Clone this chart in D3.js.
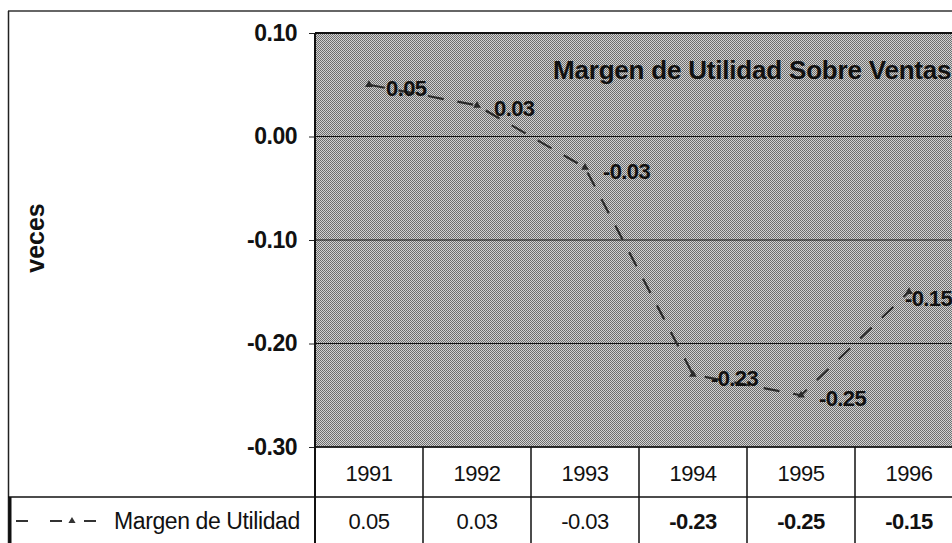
<!DOCTYPE html>
<html>
<meta charset="utf-8">
<script src="https://d3js.org/d3.v7.min.js"></script>
<style>
  body { margin: 0; background: #fff; }
  text { font-family: "Liberation Sans", Arial, sans-serif; fill: #111; }
</style>
<body>
<div id="vis"></div>
<script>
    // data
    var years = ["1991", "1992", "1993", "1994", "1995", "1996"];
    var margen = [0.05, 0.03, -0.03, -0.23, -0.25, -0.15];
    var yTicks = [0.10, 0.00, -0.10, -0.20, -0.30];
    var seriesName = "Margen de Utilidad";
    var chartTitle = "Margen de Utilidad Sobre Ventas";
    var axisTitle = "veces";

    var total_width = 952,
        total_height = 543,
        plot = {left: 315, right: 963, top: 33, bottom: 447},
        rowH = 50;

    // plain hyphen for negatives, like the original
    var fmt = d3.formatLocale({decimal: ".", thousands: ",", grouping: [3], currency: ["", ""], minus: "-"}).format(".2f");

    var svg = d3.select("#vis")
      .append("svg")
        .attr("width", total_width)
        .attr("height", total_height);

    // dithered grey fill like the scan
    var defs = svg.append("defs");
    var pat = defs.append("pattern")
        .attr("id", "dither")
        .attr("width", 2).attr("height", 2)
        .attr("patternUnits", "userSpaceOnUse");
    pat.append("rect").attr("width", 2).attr("height", 2).attr("fill", "#d2d2d2");
    pat.append("rect").attr("width", 1).attr("height", 1).attr("fill", "#6a6a6a");
    pat.append("rect").attr("x", 1).attr("y", 1).attr("width", 1).attr("height", 1).attr("fill", "#727272");

    var x_scale = d3.scaleBand()
      .domain(years)
      .range([plot.left, plot.right]);

    var y_scale = d3.scaleLinear()
      .domain([-0.30, 0.10])
      .range([plot.bottom, plot.top]);

    // outer frame
    svg.append("line")
      .attr("x1", 8).attr("x2", total_width).attr("y1", 11).attr("y2", 11)
      .attr("stroke", "#333").attr("stroke-width", 1.5);
    svg.append("line")
      .attr("x1", 8.5).attr("x2", 8.5).attr("y1", 11).attr("y2", total_height)
      .attr("stroke", "#222").attr("stroke-width", 1.5);

    // plot background
    svg.append("rect")
      .attr("x", plot.left).attr("y", plot.top)
      .attr("width", plot.right - plot.left)
      .attr("height", plot.bottom - plot.top)
      .attr("fill", "url(#dither)");

    // y axis
    var yAxis = svg.append("g")
      .attr("transform", "translate(" + plot.left + ",0)")
      .call(d3.axisLeft(y_scale).tickValues(yTicks).tickFormat(fmt).tickSize(6).tickPadding(12));
    yAxis.select(".domain").remove();
    yAxis.selectAll(".tick line").attr("stroke", "#222");
    yAxis.selectAll("text")
      .style("font-size", "23px")
      .style("font-weight", "bold")
      .style("letter-spacing", "-0.5px")
      .attr("fill", "#111");

    // gridlines
    svg.append("g")
      .selectAll("line")
      .data(yTicks)
      .enter()
      .append("line")
        .attr("x1", plot.left).attr("x2", plot.right)
        .attr("y1", function(d) { return y_scale(d); })
        .attr("y2", function(d) { return y_scale(d); })
        .attr("stroke", "#111")
        .attr("stroke-width", function(d) { return d == 0.10 ? 2 : 1.2; });

    // plot left border
    svg.append("line")
      .attr("x1", plot.left).attr("x2", plot.left)
      .attr("y1", plot.top).attr("y2", total_height)
      .attr("stroke", "#111").attr("stroke-width", 2);

    // axis title
    svg.append("text")
      .attr("transform", "translate(44,238) rotate(-90)")
      .attr("text-anchor", "middle")
      .style("font-size", "25px")
      .style("font-weight", "bold")
      .text(axisTitle);

    // chart title
    svg.append("text")
      .attr("x", 553).attr("y", 79)
      .style("font-size", "26px")
      .style("font-weight", "bold")
      .style("letter-spacing", "-0.2px")
      .text(chartTitle);

    // series line
    var pts = years.map(function(y, i) { return {year: y, value: margen[i]}; });
    var line = d3.line()
      .x(function(d) { return x_scale(d.year) + x_scale.bandwidth() / 2; })
      .y(function(d) { return y_scale(d.value); });

    svg.append("path")
      .datum(pts)
      .attr("d", line)
      .attr("fill", "none")
      .attr("stroke", "#2a2a2a")
      .attr("stroke-width", 2.2)
      .attr("stroke-dasharray", "16,14");

    svg.append("g")
      .selectAll("path")
      .data(pts)
      .enter()
      .append("path")
        .attr("d", d3.symbol().type(d3.symbolTriangle).size(26))
        .attr("transform", function(d) {
          return "translate(" + (x_scale(d.year) + x_scale.bandwidth() / 2) + "," + y_scale(d.value) + ")";
        })
        .attr("fill", "#2a2a2a");

    // data labels (last one sits a bit closer, as in the original)
    svg.append("g")
      .selectAll("text")
      .data(pts)
      .enter()
      .append("text")
        .attr("x", function(d, i) {
          var off = i == pts.length - 1 ? -4 : (d.value < 0 ? 18 : 17);
          return x_scale(d.year) + x_scale.bandwidth() / 2 + off;
        })
        .attr("y", function(d, i) { return y_scale(d.value) + (i == pts.length - 1 ? 14 : 11); })
        .style("font-size", "22px")
        .style("font-weight", "bold")
        .style("letter-spacing", "-0.6px")
        .text(function(d) { return fmt(d.value); });

    // data table
    var table = svg.append("g");
    table.append("line")
      .attr("x1", plot.left).attr("x2", total_width)
      .attr("y1", plot.bottom + rowH).attr("y2", plot.bottom + rowH)
      .attr("stroke", "#111").attr("stroke-width", 1.5);
    table.append("line")
      .attr("x1", 8).attr("x2", plot.left)
      .attr("y1", plot.bottom + rowH).attr("y2", plot.bottom + rowH)
      .attr("stroke", "#111").attr("stroke-width", 1.5);
    table.append("line")
      .attr("x1", plot.left).attr("x2", total_width)
      .attr("y1", plot.bottom).attr("y2", plot.bottom)
      .attr("stroke", "#111").attr("stroke-width", 1.5);
    // legend cell thick left border
    table.append("line")
      .attr("x1", 10).attr("x2", 10)
      .attr("y1", plot.bottom + rowH).attr("y2", total_height)
      .attr("stroke", "#111").attr("stroke-width", 3);

    // column separators
    table.selectAll(".sep")
      .data(years)
      .enter()
      .append("line")
        .attr("class", "sep")
        .attr("x1", function(d) { return x_scale(d) + x_scale.bandwidth(); })
        .attr("x2", function(d) { return x_scale(d) + x_scale.bandwidth(); })
        .attr("y1", plot.bottom).attr("y2", total_height)
        .attr("stroke", "#111").attr("stroke-width", 1.5);

    table.selectAll(".yr")
      .data(years)
      .enter()
      .append("text")
        .attr("class", "yr")
        .attr("x", function(d) { return x_scale(d) + x_scale.bandwidth() / 2; })
        .attr("y", plot.bottom + 34)
        .attr("text-anchor", "middle")
        .style("font-size", "22px")
        .style("letter-spacing", "-0.5px")
        .text(function(d) { return d; });

    table.selectAll(".val")
      .data(pts)
      .enter()
      .append("text")
        .attr("class", "val")
        .attr("x", function(d) { return x_scale(d.year) + x_scale.bandwidth() / 2; })
        .attr("y", plot.bottom + rowH + 32)
        .attr("text-anchor", "middle")
        .style("font-size", "22px")
        .style("letter-spacing", "-0.5px")
        .style("font-weight", function(d) { return d.value < -0.1 ? "bold" : "normal"; })
        .text(function(d) { return fmt(d.value); });

    // legend key
    var ly = plot.bottom + rowH + 24;
    table.append("line")
      .attr("x1", 16).attr("x2", 108)
      .attr("y1", ly).attr("y2", ly)
      .attr("stroke", "#333").attr("stroke-width", 2)
      .attr("stroke-dasharray", "12,22");
    table.append("path")
      .attr("d", d3.symbol().type(d3.symbolTriangle).size(22))
      .attr("transform", "translate(72," + ly + ")")
      .attr("fill", "#333");
    table.append("text")
      .attr("x", 114).attr("y", plot.bottom + rowH + 32)
      .style("font-size", "23px")
      .style("letter-spacing", "-0.4px")
      .text(seriesName);
</script>
</body>
</html>
